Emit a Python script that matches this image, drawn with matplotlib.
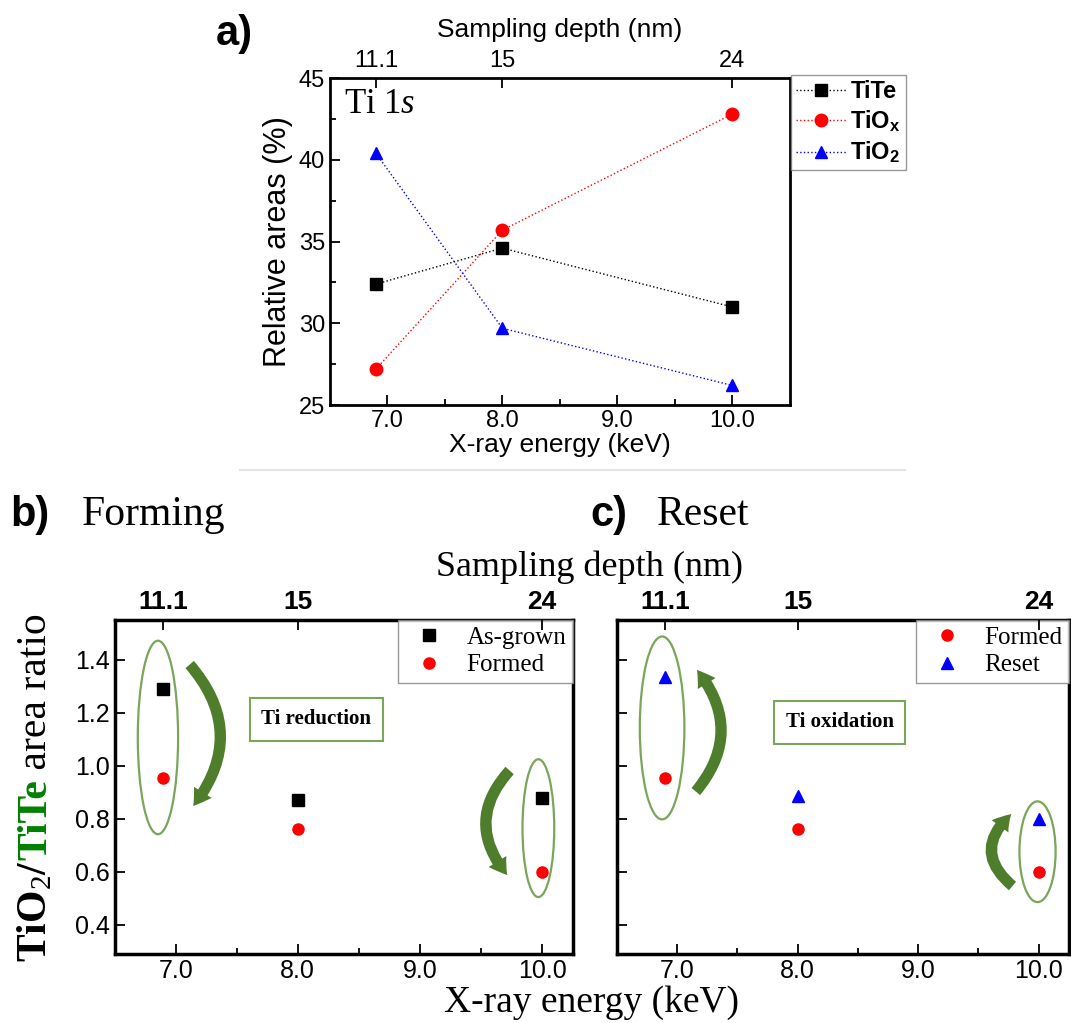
import numpy as np
import matplotlib.pyplot as plt
from matplotlib.patches import Ellipse, FancyArrowPatch
from matplotlib.lines import Line2D

plt.rcParams['font.family'] = ['Liberation Sans', 'DejaVu Sans']
plt.rcParams['mathtext.fontset'] = 'custom'
plt.rcParams['mathtext.it'] = 'Liberation Serif:italic'
plt.rcParams['mathtext.rm'] = 'Liberation Serif'
plt.rcParams['mathtext.bf'] = 'Liberation Sans:bold'

SERIF = ['Liberation Serif', 'DejaVu Serif']

# data
energy = [6.9, 8.0, 10.0]
depth_labels = ['11.1', '15', '24']
energy_ticks = [7.0, 8.0, 9.0, 10.0]

tite = [32.4, 34.6, 31.0]
tiox = [27.2, 35.7, 42.8]
tio2 = [40.4, 29.7, 26.2]

asgrown_ratio = [1.29, 0.87, 0.88]
formed_ratio = [0.955, 0.76, 0.60]
reset_ratio = [1.335, 0.885, 0.80]

ELL = '#79a65a'
ARR = '#4e7d2c'

fig = plt.figure(figsize=(10.71, 10.23), dpi=100)
ax_a = fig.add_axes([0.308, 0.604, 0.4295, 0.3197])
ax_b = fig.add_axes([0.107, 0.0674, 0.4276, 0.3265])
ax_c = fig.add_axes([0.576, 0.0674, 0.422, 0.3265])


def frame(ax, lw):
    for s in ax.spines.values():
        s.set_linewidth(lw)
    ax.tick_params(which='both', direction='in', width=1.3, right=False)
    ax.tick_params(which='major', length=7)
    ax.tick_params(which='minor', length=4)


def top_axis(ax, size, weight):
    top = ax.twiny()
    top.set_xlim(ax.get_xlim())
    top.set_xticks(energy)
    top.set_xticklabels(depth_labels, fontsize=size, fontweight=weight)
    top.tick_params(direction='in', length=7, width=1.3, pad=4)
    for s in top.spines.values():
        s.set_visible(False)
    return top


# ---- panel a ----
ax_a.plot(energy, tite, ls=':', lw=1, color='k', marker='s', ms=8, label='TiTe')
ax_a.plot(energy, tiox, ls=':', lw=1, color='red', marker='o', ms=9,
          label=r'TiO$_\mathbf{x}$')
ax_a.plot(energy, tio2, ls=':', lw=1, color='blue', marker='^', ms=9,
          label=r'TiO$_\mathbf{2}$')
ax_a.set_xlim(6.5, 10.5)
ax_a.set_ylim(25, 45)
ax_a.set_xticks(energy_ticks)
ax_a.set_xticklabels([f'{v:.1f}' for v in energy_ticks], fontsize=17)
ax_a.set_xticks([7.5, 8.5, 9.5], minor=True)
ax_a.set_yticks([25, 30, 35, 40, 45])
ax_a.set_yticks([27.5, 32.5, 37.5, 42.5], minor=True)
ax_a.tick_params(axis='y', labelsize=17)
frame(ax_a, 2)
ax_a.set_xlabel('X-ray energy (keV)', fontsize=19, labelpad=1)
ax_a.set_ylabel('Relative areas (%)', fontsize=22, labelpad=4)
ta = top_axis(ax_a, 17, 'normal')
ta.set_xlabel('Sampling depth (nm)', fontsize=19, labelpad=10)
ax_a.text(0.03, 0.97, 'Ti 1$s$', transform=ax_a.transAxes, fontsize=25,
          family=SERIF, va='top', ha='left')
leg = ax_a.legend(loc='upper left', bbox_to_anchor=(1.003, 1.01), fontsize=17,
                  frameon=True, fancybox=False, edgecolor='gray', borderpad=0.2,
                  handlelength=2.1, handletextpad=0.2, labelspacing=0.25,
                  borderaxespad=0, handleheight=0.6)
for t in leg.get_texts():
    t.set_fontweight('bold')
fig.text(216 / 1071, 1 - 34 / 1023, 'a)', fontsize=30, fontweight='bold',
         ha='left', va='center')
fig.add_artist(Line2D([240 / 1071, 905 / 1071], [1 - 470 / 1023] * 2,
                      color='#e4e4e4', lw=1.5))

# ---- panels b and c ----
for ax in (ax_b, ax_c):
    ax.set_xlim(6.5, 10.25)
    ax.set_ylim(0.29, 1.55)
    ax.set_xticks(energy_ticks)
    ax.set_xticklabels([f'{v:.1f}' for v in energy_ticks], fontsize=18)
    ax.set_xticks([7.5, 8.5, 9.5], minor=True)
    ax.set_yticks([0.4, 0.6, 0.8, 1.0, 1.2, 1.4])
    frame(ax, 2.5)
    top_axis(ax, 19, 'bold')

ax_b.set_yticklabels(['0.4', '0.6', '0.8', '1.0', '1.2', '1.4'], fontsize=18)
ax_c.set_yticklabels([])

ax_b.plot(energy, asgrown_ratio, ls='none', marker='s', ms=8, color='k', label='As-grown')
ax_b.plot(energy, formed_ratio, ls='none', marker='o', ms=8, color='red', label='Formed')
ax_c.plot(energy, formed_ratio, ls='none', marker='o', ms=8, color='red', label='Formed')
ax_c.plot(energy, reset_ratio, ls='none', marker='^', ms=8, color='blue', label='Reset')

for ax in (ax_b, ax_c):
    lg = ax.legend(loc='upper right', fontsize=18, frameon=True, fancybox=False,
                   edgecolor='gray', borderaxespad=0, borderpad=0.25,
                   handlelength=2.0, handletextpad=0.5, labelspacing=0.2)
    for t in lg.get_texts():
        t.set_fontfamily(SERIF)

# ellipses
ax_b.add_patch(Ellipse((6.855, 1.107), 0.33, 0.73, fill=False, ec=ELL, lw=1.6))
ax_b.add_patch(Ellipse((9.97, 0.765), 0.26, 0.52, fill=False, ec=ELL, lw=1.6))
ax_c.add_patch(Ellipse((6.875, 1.143), 0.37, 0.69, fill=False, ec=ELL, lw=1.6))
ax_c.add_patch(Ellipse((9.99, 0.676), 0.30, 0.38, fill=False, ec=ELL, lw=1.6))

# curved arrows
arrow_style = 'simple,head_width=15,head_length=12,tail_width=8'
arrows = [
    (ax_b, (7.10, 1.39), (7.13, 0.84), -0.42),
    (ax_b, (9.75, 0.99), (9.73, 0.58), 0.45),
    (ax_c, (7.14, 0.895), (7.15, 1.37), 0.42),
    (ax_c, (9.80, 0.54), (9.79, 0.825), -0.6),
]
for ax, p0, p1, rad in arrows:
    ax.add_patch(FancyArrowPatch(p0, p1, connectionstyle=f'arc3,rad={rad}',
                                 arrowstyle=arrow_style, color=ARR, lw=0))

box = dict(boxstyle='square,pad=0.55', fc='white', ec=ELL, lw=1.5)
ax_b.text(8.15, 1.175, 'Ti reduction', ha='center', va='center', fontsize=15,
          fontweight='bold', family=SERIF, bbox=box)
ax_c.text(8.35, 1.165, 'Ti oxidation', ha='center', va='center', fontsize=15,
          fontweight='bold', family=SERIF, bbox=box)

fig.text(589 / 1071, 1 - 567 / 1023, 'Sampling depth (nm)', fontsize=26,
         family=SERIF, ha='center', va='center')
fig.text(591 / 1071, 1 - 1003 / 1023, 'X-ray energy (keV)', fontsize=27,
         family=SERIF, ha='center', va='center')

fig.text(10 / 1071, 1 - 515 / 1023, 'b)', fontsize=30, fontweight='bold',
         ha='left', va='center')
fig.text(82 / 1071, 1 - 515 / 1023, 'Forming', fontsize=30, family=SERIF,
         ha='left', va='center')
fig.text(590 / 1071, 1 - 515 / 1023, 'c)', fontsize=30, fontweight='bold',
         ha='left', va='center')
fig.text(657 / 1071, 1 - 515 / 1023, 'Reset', fontsize=30, family=SERIF,
         ha='left', va='center')

# y label of b, built from pieces so TiTe can be green
renderer = fig.canvas.get_renderer()
x0 = 46 / 1071
y0 = 1 - 962 / 1023
pieces = [(r'TiO$_\mathrm{2}$/', 'black', 'bold'), ('TiTe', 'green', 'bold'),
          (' area ratio', 'black', 'normal')]
for txt, col, wt in pieces:
    t = fig.text(x0, y0, txt, rotation=90, rotation_mode='anchor', ha='left',
                 va='baseline', fontsize=30, family=SERIF, color=col,
                 fontweight=wt)
    bb = t.get_window_extent(renderer)
    y0 = fig.transFigure.inverted().transform((0, bb.y1))[1]

fig.savefig('out.png', dpi=100)
